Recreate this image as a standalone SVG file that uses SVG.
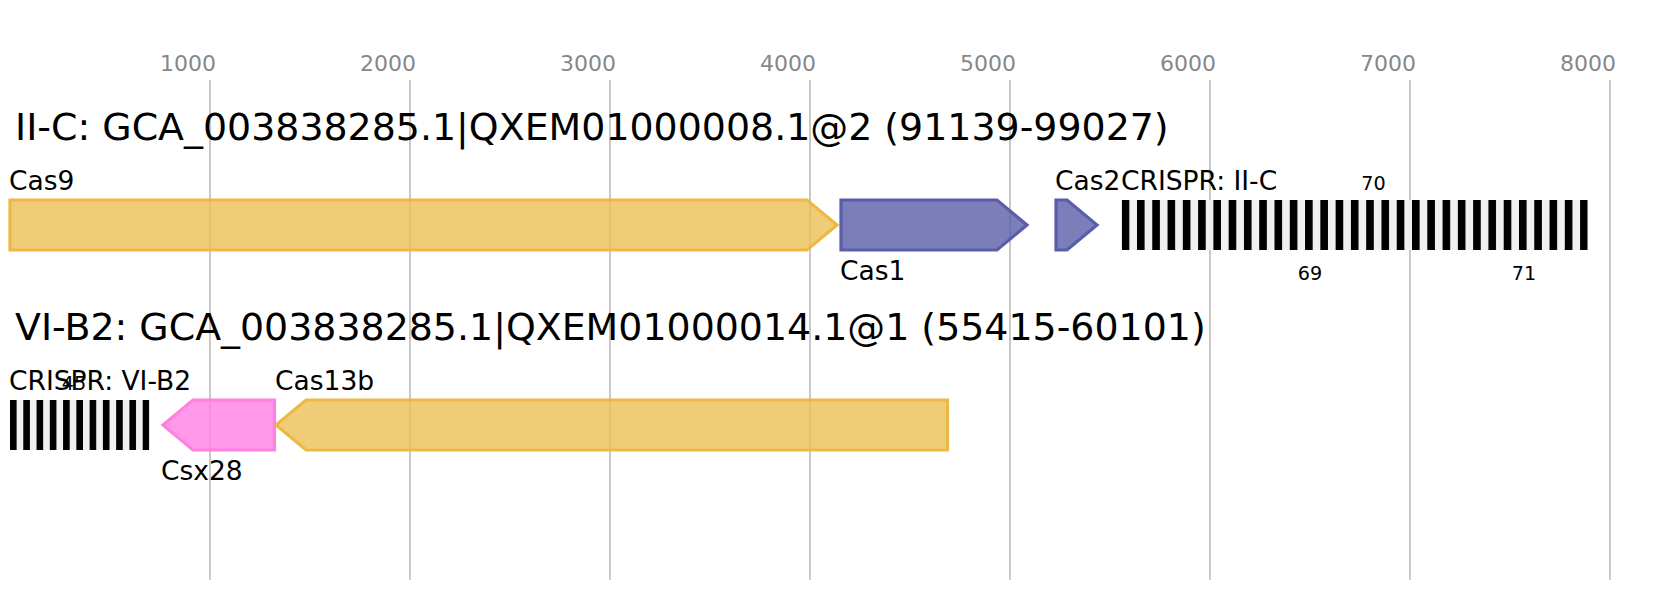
<svg xmlns="http://www.w3.org/2000/svg" width="1678" height="600" viewBox="0 0 1678 600">
<style>
text{font-family:"DejaVu Sans","Liberation Sans",sans-serif;fill:#000}
.tick{font-size:22px;fill:#888;text-anchor:end}
.grid{stroke:#bbb;stroke-width:1.6}
.title{font-size:37.9px}
.lbl{font-size:26.5px}
.num{font-size:19.2px;text-anchor:middle}
.gene{stroke-width:3.2;fill-opacity:0.8}
.cas9{fill:#eebf54;stroke:#edb946}
.cas1{fill:#5a5ea8;stroke:#5a5ea8}
.csx{fill:#ff80e2;stroke:#ff80e0}
.arr{fill:#f0f0f0}
.rep{fill:#000}
</style>
<defs>
<pattern id="rep1" x="1121.7" y="0" width="15.28" height="600" patternUnits="userSpaceOnUse"><rect x="0" y="0" width="7.6" height="600" class="rep"/></pattern>
<pattern id="rep2" x="10" y="0" width="13.27" height="600" patternUnits="userSpaceOnUse"><rect x="0" y="0" width="6.6" height="600" class="rep"/></pattern>
</defs>
<g id="axis">
<g class="grid">
<line x1="210" y1="80" x2="210" y2="580"/>
<line x1="410" y1="80" x2="410" y2="580"/>
<line x1="610" y1="80" x2="610" y2="580"/>
<line x1="810" y1="80" x2="810" y2="580"/>
<line x1="1010" y1="80" x2="1010" y2="580"/>
<line x1="1210" y1="80" x2="1210" y2="580"/>
<line x1="1410" y1="80" x2="1410" y2="580"/>
<line x1="1610" y1="80" x2="1610" y2="580"/>
</g>
<text class="tick" x="216" y="70.5">1000</text>
<text class="tick" x="416" y="70.5">2000</text>
<text class="tick" x="616" y="70.5">3000</text>
<text class="tick" x="816" y="70.5">4000</text>
<text class="tick" x="1016" y="70.5">5000</text>
<text class="tick" x="1216" y="70.5">6000</text>
<text class="tick" x="1416" y="70.5">7000</text>
<text class="tick" x="1616" y="70.5">8000</text>
</g>
<g id="row-IIC">
<text class="title" x="15" y="140">II-C: GCA_003838285.1|QXEM01000008.1@2 (91139-99027)</text>
<g id="cas9">
<path class="gene cas9" d="M10,200 L807,200 L837,225 L807,250 L10,250 Z"/>
<text class="lbl" x="9" y="190">Cas9</text>
</g>
<g id="cas1">
<path class="gene cas1" d="M841,200 L997,200 L1027,225 L997,250 L841,250 Z"/>
<text class="lbl" x="840" y="280">Cas1</text>
</g>
<g id="cas2">
<path class="gene cas1" d="M1056,200 L1067,200 L1097,225 L1067,250 L1056,250 Z"/>
<text class="lbl" x="1055" y="190">Cas2</text>
</g>
<g id="crispr-IIC">
<rect class="arr" x="1121.7" y="200" width="466" height="50"/>
<rect x="1121.7" y="200" width="466" height="50" fill="url(#rep1)"/>
<text class="lbl" x="1121" y="190">CRISPR: II-C</text>
<text class="num" x="1373.5" y="189.5">70</text>
<text class="num" x="1310" y="280">69</text>
<text class="num" x="1524" y="280">71</text>
</g>
</g>
<g id="row-VIB2">
<text class="title" x="15" y="340">VI-B2: GCA_003838285.1|QXEM01000014.1@1 (55415-60101)</text>
<g id="crispr-VIB2">
<rect class="arr" x="10" y="400" width="139.3" height="50"/>
<rect x="10" y="400" width="139.3" height="50" fill="url(#rep2)"/>
<text class="lbl" x="9" y="390">CRISPR: VI-B2</text>
<text class="num" x="74" y="389.5">45</text>
</g>
<g id="csx28">
<path class="gene csx" d="M274.5,400 L193,400 L163,425 L193,450 L274.5,450 Z"/>
<text class="lbl" x="161" y="480">Csx28</text>
</g>
<g id="cas13b">
<path class="gene cas9" d="M947.5,400 L306,400 L276,425 L306,450 L947.5,450 Z"/>
<text class="lbl" x="275" y="390">Cas13b</text>
</g>
</g>
<g id="connectors"/>
</svg>
